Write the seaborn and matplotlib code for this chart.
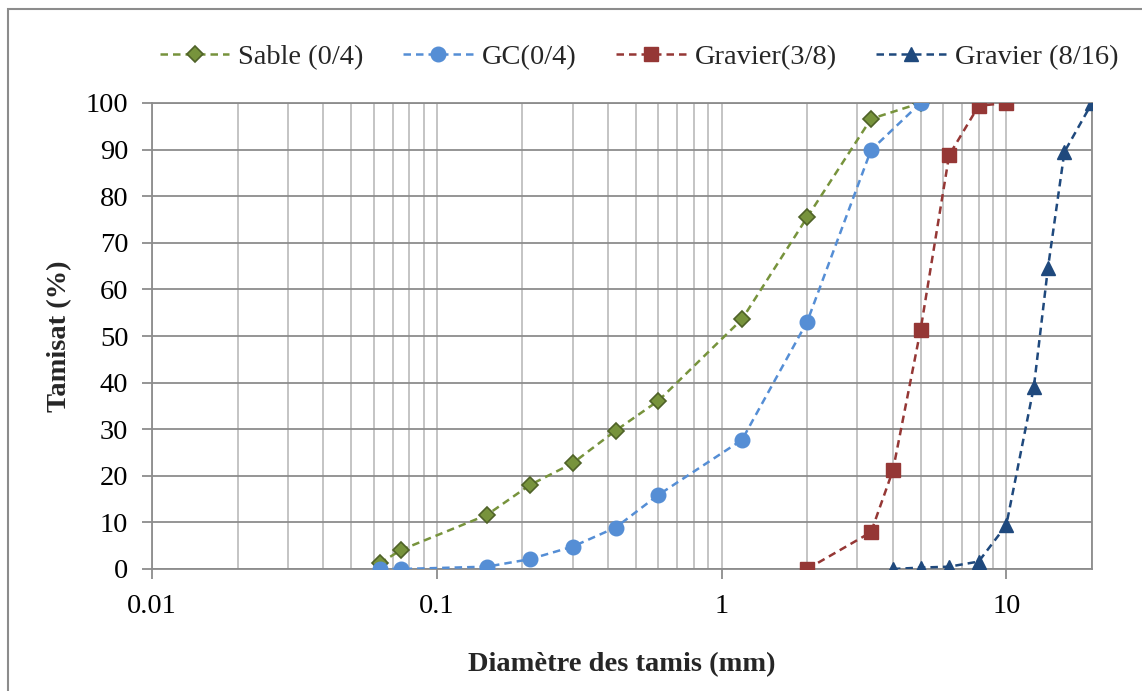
import matplotlib
matplotlib.use("Agg")
import matplotlib.pyplot as plt
import matplotlib.ticker as mticker
from matplotlib.patches import Rectangle
import seaborn as sns
import pandas as pd

# Sieve openings (mm) and cumulative passing (%) for each aggregate
sable_x = [0.063, 0.075, 0.15, 0.212, 0.3, 0.425, 0.6, 1.18, 2.0, 3.35, 5.0]
sable_y = [1.2, 4.1, 11.6, 18.0, 22.7, 29.7, 36.1, 53.6, 75.5, 96.6, 100.0]

gc_x = [0.063, 0.075, 0.15, 0.212, 0.3, 0.425, 0.6, 1.18, 2.0, 3.35, 5.0]
gc_y = [0.0, 0.0, 0.5, 2.1, 4.8, 8.9, 15.9, 27.7, 53.1, 89.9, 100.0]

g38_x = [2.0, 3.35, 4.0, 5.0, 6.3, 8.0, 10.0]
g38_y = [0.0, 7.9, 21.2, 51.3, 88.8, 99.4, 100.0]

g816_x = [4.0, 5.0, 6.3, 8.0, 10.0, 12.5, 14.0, 16.0, 20.0]
g816_y = [0.0, 0.3, 0.5, 1.6, 9.4, 39.1, 64.5, 89.5, 100.0]

series_names = ["Sable (0/4)", "GC(0/4)", "Gravier(3/8)", "Gravier (8/16)"]
x_ticks = [0.01, 0.1, 1, 10]
y_ticks = list(range(0, 101, 10))

sns.set_theme(style="white")
plt.rcParams["font.family"] = ["Liberation Serif", "DejaVu Serif"]

FS = 20.5

fig = plt.figure(figsize=(11.42, 6.91), dpi=100)
ax = fig.add_axes([152 / 1142, 1 - 569 / 691, (1092 - 152) / 1142, (569 - 103) / 691])

styles = [
    dict(color="#77933C", marker="D", markersize=8, markerfacecolor="#77933C",
         markeredgecolor="#4F6228", markeredgewidth=1.2),
    dict(color="#558ED5", marker="o", markersize=10.5, markerfacecolor="#558ED5",
         markeredgecolor="#558ED5", markeredgewidth=1),
    dict(color="#953735", marker="s", markersize=10, markerfacecolor="#953735",
         markeredgecolor="#953735", markeredgewidth=1),
    dict(color="#1F497D", marker="^", markersize=10.5, markerfacecolor="#1F497D",
         markeredgecolor="#1F497D", markeredgewidth=1),
]
datasets = [(sable_x, sable_y), (gc_x, gc_y), (g38_x, g38_y), (g816_x, g816_y)]

for name, (xs, ys), st in zip(series_names, datasets, styles):
    df = pd.DataFrame({"d": xs, "p": ys})
    sns.lineplot(data=df, x="d", y="p", ax=ax, label=name, estimator=None,
                 linewidth=1.8, linestyle=(0, (3, 2)), zorder=3, **st)

ax.set_xscale("log")
ax.set_xlim(0.01, 20)
ax.set_ylim(0, 100)
ax.set_xticks(x_ticks)
ax.xaxis.set_major_formatter(mticker.FuncFormatter(lambda v, p: f"{v:g}"))
ax.xaxis.set_minor_locator(mticker.LogLocator(base=10, subs=range(2, 10)))
ax.xaxis.set_minor_formatter(mticker.NullFormatter())
ax.set_yticks(y_ticks)

ax.grid(False)
for v in ax.xaxis.get_minorticklocs().tolist() + x_ticks:
    if 0.01 <= v <= 20:
        ax.axvline(v, color="#BFBFBF", lw=1.3, zorder=1)
for v in y_ticks:
    ax.axhline(v, color="#8C8C8C", lw=1.3, zorder=1.5)

for s in ax.spines.values():
    s.set_color("#8C8C8C")
    s.set_linewidth(1.3)

ax.tick_params(axis="both", which="major", labelsize=FS, colors="#8C8C8C",
               labelcolor="black", length=7, width=1.3, direction="out")
ax.tick_params(axis="x", which="minor", length=0)
ax.tick_params(axis="x", which="major", pad=11)
ax.tick_params(axis="y", which="major", pad=10)
ax.tick_params(bottom=True, left=True)

ax.set_xlabel("Diamètre des tamis (mm)", fontsize=FS, fontweight="bold", labelpad=24)
ax.set_ylabel("Tamisat (%)", fontsize=FS, fontweight="bold", labelpad=10)

handles, labels = ax.get_legend_handles_labels()
ax.get_legend().remove()
fig.legend(handles, labels, loc="center", bbox_to_anchor=(0.5595, 1 - 57 / 691),
           ncol=4, frameon=False, fontsize=FS, handlelength=2.45,
           columnspacing=1.4, handletextpad=0.3)

fig.patches.append(Rectangle((8 / 1142, -0.05), 1.2, 1 - 9 / 691 + 0.05,
                             transform=fig.transFigure, fill=False,
                             edgecolor="#8C8C8C", linewidth=1.5))

fig.savefig("out.png", dpi=100, facecolor="white")
